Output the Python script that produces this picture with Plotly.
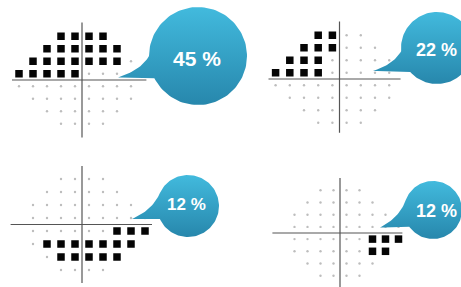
import math
import plotly.graph_objects as go

W, H = 461, 287

# ---------------- data ----------------
# visual-field test grid (grid units, 1 unit = one test location)
ROWS = [3.5, 2.5, 1.5, 0.5, -0.5, -1.5, -2.5, -3.5]
LEFT_ROW_MIN = [-1.5, -2.5, -3.5, -4.5, -4.5, -3.5, -2.5, -1.5]
LEFT_ROW_MAX = [1.5, 2.5, 3.5, 3.5, 3.5, 3.5, 2.5, 1.5]
RIGHT_ROW_MIN = [-1.5, -2.5, -3.5, -3.5, -3.5, -3.5, -2.5, -1.5]
RIGHT_ROW_MAX = [1.5, 2.5, 3.5, 4.5, 4.5, 3.5, 2.5, 1.5]

PERCENTS = [45, 22, 12, 12]

P1_DEFECT_X = [-1.5, -0.5, 0.5, 1.5,
               -2.5, -1.5, -0.5, 0.5, 1.5, 2.5,
               -3.5, -2.5, -1.5, -0.5, 0.5, 1.5, 2.5,
               -4.5, -3.5, -2.5, -1.5, -0.5]
P1_DEFECT_Y = [3.5] * 4 + [2.5] * 6 + [1.5] * 7 + [0.5] * 5

P2_DEFECT_X = [-1.5, -0.5,
               -2.5, -1.5, -0.5,
               -3.5, -2.5, -1.5,
               -4.5, -3.5, -2.5, -1.5]
P2_DEFECT_Y = [3.5] * 2 + [2.5] * 3 + [1.5] * 3 + [0.5] * 4

P3_DEFECT_X = [2.5, 3.5, 4.5,
               -2.5, -1.5, -0.5, 0.5, 1.5, 2.5, 3.5,
               -1.5, -0.5, 0.5, 1.5, 2.5]
P3_DEFECT_Y = [-0.5] * 3 + [-1.5] * 7 + [-2.5] * 5

P4_DEFECT_X = [2.5, 3.5, 4.5,
               2.5, 3.5]
P4_DEFECT_Y = [-0.5] * 3 + [-1.5] * 2

PANEL_DEFECTS = [(P1_DEFECT_X, P1_DEFECT_Y), (P2_DEFECT_X, P2_DEFECT_Y),
                 (P3_DEFECT_X, P3_DEFECT_Y), (P4_DEFECT_X, P4_DEFECT_Y)]
PANEL_EYE = ["left", "left", "right", "right"]

# ---------------- layout geometry (pixels) ----------------
# centre of cross, px per grid unit, pixel box, axis-line extents (grid units)
PANELS = [
    dict(cx=82, cy=80, sx=14.0, sy=12.5, box=(0, 0, 230, 143),
         hx=(-5.0, 4.6), vy=(-4.6, 4.6)),
    dict(cx=339.5, cy=79, sx=14.2, sy=12.5, box=(230, 0, 461, 143),
         hx=(-5.0, 4.3), vy=(-4.3, 4.6)),
    dict(cx=82, cy=224.5, sx=14.0, sy=13.0, box=(0, 143, 230, 287),
         hx=(-5.1, 5.0), vy=(-4.5, 4.5)),
    dict(cx=340, cy=233, sx=13.0, sy=12.2, box=(230, 143, 461, 287),
         hx=(-5.2, 4.8), vy=(-4.6, 4.5)),
]

BUBBLES = [
    dict(cx=198, cy=56, r=49, tip=(118, 77.5), up=180, low=153, tx=197, ty=58, fs=21),
    dict(cx=437, cy=48, r=36, tip=(373, 71), up=175, low=138, tx=436, ty=50, fs=18),
    dict(cx=188, cy=206, r=31, tip=(132, 219), up=205, low=155, tx=186, ty=204, fs=17),
    dict(cx=433, cy=210, r=29, tip=(380, 227.5), up=200, low=145, tx=436, ty=211, fs=18),
]
LIGHT = "#42BADD"
DARK = "#2787AC"

fig = go.Figure()
layout_axes = {}
shapes = []

for i, (p, (dx, dy), eye) in enumerate(zip(PANELS, PANEL_DEFECTS, PANEL_EYE), start=1):
    bx0, by0, bx1, by1 = p["box"]
    xr = [(bx0 - p["cx"]) / p["sx"], (bx1 - p["cx"]) / p["sx"]]
    yr = [(p["cy"] - by1) / p["sy"], (p["cy"] - by0) / p["sy"]]
    xa = "xaxis" if i == 1 else f"xaxis{i}"
    ya = "yaxis" if i == 1 else f"yaxis{i}"
    xref = "x" if i == 1 else f"x{i}"
    yref = "y" if i == 1 else f"y{i}"
    layout_axes[xa] = dict(domain=[bx0 / W, bx1 / W], range=xr, visible=False,
                           fixedrange=True, anchor=yref)
    layout_axes[ya] = dict(domain=[1 - by1 / H, 1 - by0 / H], range=yr, visible=False,
                           fixedrange=True, anchor=xref)

    rmin = LEFT_ROW_MIN if eye == "left" else RIGHT_ROW_MIN
    rmax = LEFT_ROW_MAX if eye == "left" else RIGHT_ROW_MAX
    defect = set(zip(dx, dy))
    gx, gy = [], []
    for row, lo, hi in zip(ROWS, rmin, rmax):
        x = lo
        while x <= hi + 1e-9:
            if (x, row) not in defect:
                gx.append(x)
                gy.append(row)
            x += 1.0

    # axis cross lines
    shapes.append(dict(type="line", xref=xref, yref=yref, x0=p["hx"][0], x1=p["hx"][1],
                       y0=0, y1=0, line=dict(color="#555555", width=1.2), layer="below"))
    shapes.append(dict(type="line", xref=xref, yref=yref, x0=0, x1=0,
                       y0=p["vy"][0], y1=p["vy"][1], line=dict(color="#555555", width=1.2),
                       layer="below"))

    fig.add_trace(go.Scatter(x=gx, y=gy, mode="markers", xaxis=xref, yaxis=yref,
                             marker=dict(size=2.4, color="#bdbdbd", symbol="circle"),
                             hoverinfo="skip", showlegend=False))
    fig.add_trace(go.Scatter(x=dx, y=dy, mode="markers", xaxis=xref, yaxis=yref,
                             marker=dict(size=7.5, color="#050505", symbol="square",
                                         line=dict(width=0)),
                             hoverinfo="skip", showlegend=False))

# overlay pixel axis for the call-out bubbles
layout_axes["xaxis5"] = dict(domain=[0, 1], range=[0, W], visible=False, fixedrange=True,
                             anchor="y5")
layout_axes["yaxis5"] = dict(domain=[0, 1], range=[H, 0], visible=False, fixedrange=True,
                             anchor="x5")


def qbez(p0, c, p1, n=20):
    pts = []
    for k in range(n + 1):
        t = k / n
        x = (1 - t) ** 2 * p0[0] + 2 * (1 - t) * t * c[0] + t ** 2 * p1[0]
        y = (1 - t) ** 2 * p0[1] + 2 * (1 - t) * t * c[1] + t ** 2 * p1[1]
        pts.append((x, y))
    return pts


annotations = []
for b, pct in zip(BUBBLES, PERCENTS):
    cx, cy, r = b["cx"], b["cy"], b["r"]
    a0, a1 = b["up"], b["low"] + 360
    pts = []
    n = 120
    for k in range(n + 1):
        a = math.radians(a0 + (a1 - a0) * k / n)
        pts.append((cx + r * math.cos(a), cy + r * math.sin(a)))
    low_join = pts[-1]
    up_join = pts[0]
    tip = b["tip"]
    c1 = (tip[0] + 0.55 * (low_join[0] - tip[0]), tip[1] + 0.15 * (low_join[1] - tip[1]))
    pts += qbez(low_join, c1, tip)
    c2 = (tip[0] + 0.75 * (up_join[0] - tip[0]), tip[1] + 0.35 * (up_join[1] - tip[1]))
    pts += qbez(tip, c2, up_join)
    fig.add_trace(go.Scatter(
        x=[q[0] for q in pts], y=[q[1] for q in pts], mode="lines", fill="toself",
        line=dict(width=0, color=DARK), xaxis="x5", yaxis="y5",
        fillcolor="#35A6CC",
        fillgradient=dict(type="vertical", start=cy - r, stop=cy + r,
                          colorscale=[[0, LIGHT], [1, DARK]]),
        hoverinfo="skip", showlegend=False))
    annotations.append(dict(x=b["tx"], y=b["ty"], xref="x5", yref="y5",
                            text=f"<b>{pct} %</b>", showarrow=False,
                            font=dict(family="Liberation Sans, Arial, sans-serif",
                                      size=b["fs"], color="white"),
                            xanchor="center", yanchor="middle"))

fig.update_layout(
    width=W, height=H, margin=dict(l=0, r=0, t=0, b=0),
    paper_bgcolor="white", plot_bgcolor="rgba(0,0,0,0)",
    shapes=shapes, annotations=annotations, showlegend=False,
    **layout_axes,
)

fig.write_html("out.html", config={"displayModeBar": False},
               post_script="document.body.style.margin='0';document.body.style.padding='0';"
                           "document.body.style.overflow='hidden';")
